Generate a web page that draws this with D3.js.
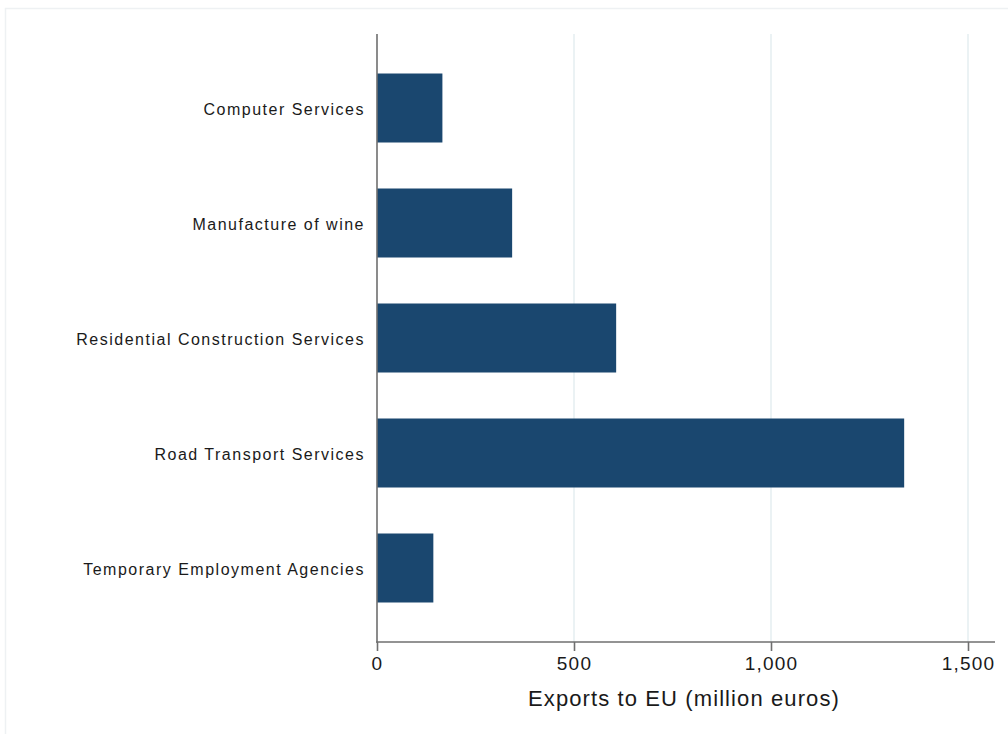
<!DOCTYPE html>
<html>
<head>
<meta charset="utf-8">
<script src="https://cdn.jsdelivr.net/npm/d3@7"></script>
<style>
  html, body { margin: 0; padding: 0; background: #ffffff; }
  svg { display: block; }
  text { font-family: "Liberation Sans", Arial, Helvetica, sans-serif; fill: #1a1a1a; }
</style>
</head>
<body>
<svg id="chart" width="1008" height="734"></svg>
<script>
const categories = [
  "Computer Services",
  "Manufacture of wine",
  "Residential Construction Services",
  "Road Transport Services",
  "Temporary Employment Agencies"
];
const values = [166, 343, 607, 1338, 143];
const tickValues = [0, 500, 1000, 1500];
const axisTitle = "Exports to EU (million euros)";

const svg = d3.select("#chart");

// outer frame
svg.append("rect")
  .attr("x", 5.5).attr("y", 8.5)
  .attr("width", 1010).attr("height", 740)
  .attr("fill", "none")
  .attr("stroke", "#eef1f3")
  .attr("stroke-width", 1.5);

const plot = { left: 377, right: 995, top: 34, bottom: 642 };

const x = d3.scaleLinear().domain([0, 1500]).range([377, 968]);
const y = d3.scaleBand().domain(categories)
  .range([plot.top, plot.bottom])
  .paddingInner(0.4).paddingOuter(0.3435);

// gridlines
svg.append("g").selectAll("line")
  .data(tickValues.filter(d => d > 0))
  .join("line")
  .attr("x1", d => x(d)).attr("x2", d => x(d))
  .attr("y1", plot.top).attr("y2", plot.bottom)
  .attr("stroke", "#e6eff2")
  .attr("stroke-width", 1.6);

// bars
svg.append("g").selectAll("rect")
  .data(categories)
  .join("rect")
  .attr("x", x(0))
  .attr("y", d => y(d))
  .attr("width", (d, i) => x(values[i]) - x(0))
  .attr("height", y.bandwidth())
  .attr("fill", "#1a476f");

// y axis
const yAxis = d3.axisLeft(y).tickSize(0).tickPadding(12);
const gy = svg.append("g").attr("transform", `translate(${plot.left},0)`).call(yAxis);
gy.select(".domain").remove();
gy.selectAll("text")
  .attr("font-size", 16)
  .attr("dy", "0.42em")
  .attr("letter-spacing", "1.5px")
  .attr("fill", "#1a1a1a")
  .attr("font-family", "'Liberation Sans', Arial, sans-serif");
svg.append("line")
  .attr("x1", plot.left).attr("x2", plot.left)
  .attr("y1", plot.top).attr("y2", plot.bottom + 0.75)
  .attr("stroke", "#6f6f6f").attr("stroke-width", 1.6);

// x axis
const xAxis = d3.axisBottom(x).tickValues(tickValues)
  .tickSize(9).tickPadding(6)
  .tickFormat(d3.format(","));
const gx = svg.append("g").attr("transform", `translate(0,${plot.bottom})`).call(xAxis);
gx.select(".domain").remove();
gx.selectAll(".tick line").attr("stroke", "#6f6f6f").attr("stroke-width", 1.6);
gx.selectAll("text")
  .attr("font-size", 19)
  .attr("letter-spacing", "1.2px")
  .attr("fill", "#1a1a1a")
  .attr("font-family", "'Liberation Sans', Arial, sans-serif");
svg.append("line")
  .attr("x1", plot.left - 0.8).attr("x2", plot.right)
  .attr("y1", plot.bottom).attr("y2", plot.bottom)
  .attr("stroke", "#6f6f6f").attr("stroke-width", 1.6);

// axis title
svg.append("text")
  .attr("x", 684).attr("y", 706)
  .attr("text-anchor", "middle")
  .attr("font-size", 22)
  .attr("letter-spacing", "1.1px")
  .text(axisTitle);
</script>
</body>
</html>
